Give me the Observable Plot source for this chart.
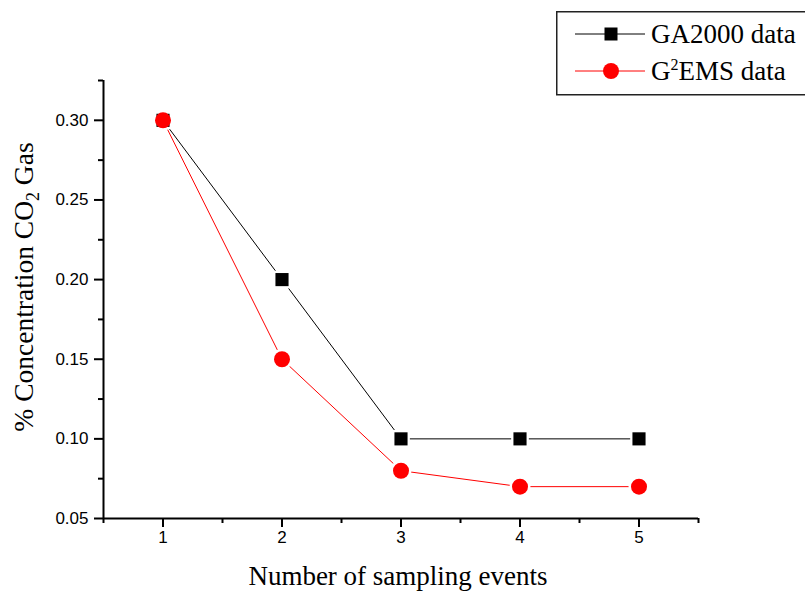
<!DOCTYPE html>
<html><head><meta charset="utf-8">
<script src="https://cdn.jsdelivr.net/npm/d3@7"></script>
<script src="https://cdn.jsdelivr.net/npm/@observablehq/plot@0.6"></script>
<style>
body{margin:0;background:#fff}
#wrap{position:relative;width:805px;height:594px;overflow:hidden;background:#fff}
#legend{position:absolute;left:556px;top:11px}
</style>
</head><body><div id="wrap"></div>
<script>
const events = [1, 2, 3, 4, 5];
const ga2000 = [0.30, 0.20, 0.10, 0.10, 0.10];
const g2ems = [0.30, 0.15, 0.08, 0.07, 0.07];
const xTicks = [1, 2, 3, 4, 5];
const xMinor = [0.5, 1.5, 2.5, 3.5, 4.5, 5.5];
const yTicks = [0.05, 0.10, 0.15, 0.20, 0.25, 0.30];
const yMinor = [0.075, 0.125, 0.175, 0.225, 0.275, 0.325];
const xLabel = "Number of sampling events";
const colors = {ga: "#000000", g2: "#ff0000"};

const gaRows = events.map((e, i) => ({x: e, y: ga2000[i]}));
const g2Rows = events.map((e, i) => ({x: e, y: g2ems[i]}));

const sans = "'Liberation Sans', Arial, sans-serif";
const chart = Plot.plot({
  width: 805, height: 594,
  marginLeft: 103, marginRight: 107, marginTop: 80, marginBottom: 76,
  x: {domain: [0.5, 5.5]},
  y: {domain: [0.05, 0.325]},
  style: {fontFamily: sans, color: "#000", background: "#fff"},
  marks: [
    Plot.axisX({ticks: xTicks, tickSize: 9, tickFormat: () => "", label: null, strokeWidth: 2}),
    Plot.axisX({ticks: xMinor, tickSize: 5, tickFormat: () => "", label: null, strokeWidth: 2}),
    Plot.axisY({ticks: yTicks, tickSize: 9, tickFormat: () => "", label: null, strokeWidth: 2}),
    Plot.axisY({ticks: yMinor, tickSize: 5, tickFormat: () => "", label: null, strokeWidth: 2}),
    Plot.text(xTicks, {x: d => d, frameAnchor: "bottom", dy: 24, text: d => String(d), fontSize: 17, fontFamily: sans, fill: "#000"}),
    Plot.text(yTicks, {y: d => d, frameAnchor: "left", dx: -15, textAnchor: "end", text: d => d3.format(".2f")(d), fontSize: 17, fontFamily: sans, fill: "#000"}),
    Plot.ruleX([0.5], {strokeWidth: 2}),
    Plot.ruleY([0.05], {strokeWidth: 2}),
    Plot.line(gaRows, {x: "x", y: "y", stroke: colors.ga, strokeWidth: 1}),
    Plot.line(g2Rows, {x: "x", y: "y", stroke: colors.g2, strokeWidth: 1}),
    Plot.dot(gaRows, {x: "x", y: "y", symbol: "square", r: 10, fill: "#fff"}),
    Plot.dot(g2Rows, {x: "x", y: "y", symbol: "circle", r: 10.5, fill: "#fff"}),
    Plot.dot(gaRows, {x: "x", y: "y", symbol: "square", r: 7.4, fill: colors.ga}),
    Plot.dot(g2Rows, {x: "x", y: "y", symbol: "circle", r: 8, fill: colors.g2})
  ]
});

const serif = "'Liberation Serif', 'Times New Roman', serif";
const svg = d3.select(chart);
svg.append("text")
  .attr("x", 398).attr("y", 585)
  .attr("text-anchor", "middle")
  .style("font-family", serif)
  .attr("font-size", 27).attr("fill", "#000")
  .text(xLabel);

const yl = svg.append("text")
  .attr("transform", "translate(33,287) rotate(-90)")
  .attr("text-anchor", "middle")
  .style("font-family", serif)
  .attr("font-size", 27.5).attr("fill", "#000");
yl.append("tspan").text("% Concentration CO");
yl.append("tspan").attr("font-size", 18).attr("dy", 6).text("2");
yl.append("tspan").attr("dy", -6).text(" Gas");

const wrap = document.getElementById("wrap");
wrap.appendChild(chart);

// legend
const lg = d3.select(wrap).append("svg").attr("id", "legend")
  .attr("width", 260).attr("height", 86);
lg.append("rect").attr("x", 0.75).attr("y", 0.75).attr("width", 300).attr("height", 83)
  .attr("fill", "#fff").attr("stroke", "#222").attr("stroke-width", 1.5);
const rows = [
  {name: ["GA2000 data"], color: colors.ga, sym: "square", cy: 23},
  {name: null, color: colors.g2, sym: "circle", cy: 60}
];
rows.forEach(r => {
  lg.append("line").attr("x1", 19).attr("x2", 89).attr("y1", r.cy).attr("y2", r.cy)
    .attr("stroke", r.color).attr("stroke-width", 1);
  if (r.sym === "square") {
    lg.append("rect").attr("x", 55 - 6.5).attr("y", r.cy - 6.5).attr("width", 13).attr("height", 13).attr("fill", r.color);
  } else {
    lg.append("circle").attr("cx", 55).attr("cy", r.cy).attr("r", 8).attr("fill", r.color);
  }
  const t = lg.append("text").attr("x", 95).attr("y", r.cy + 9)
    .style("font-family", serif)
    .attr("font-size", 27).attr("fill", "#000");
  if (r.name) t.text(r.name[0]);
  else {
    t.append("tspan").text("G");
    t.append("tspan").attr("font-size", 16).attr("dy", -10).text("2");
    t.append("tspan").attr("dy", 10).text("EMS data");
  }
});
</script>
</body></html>
